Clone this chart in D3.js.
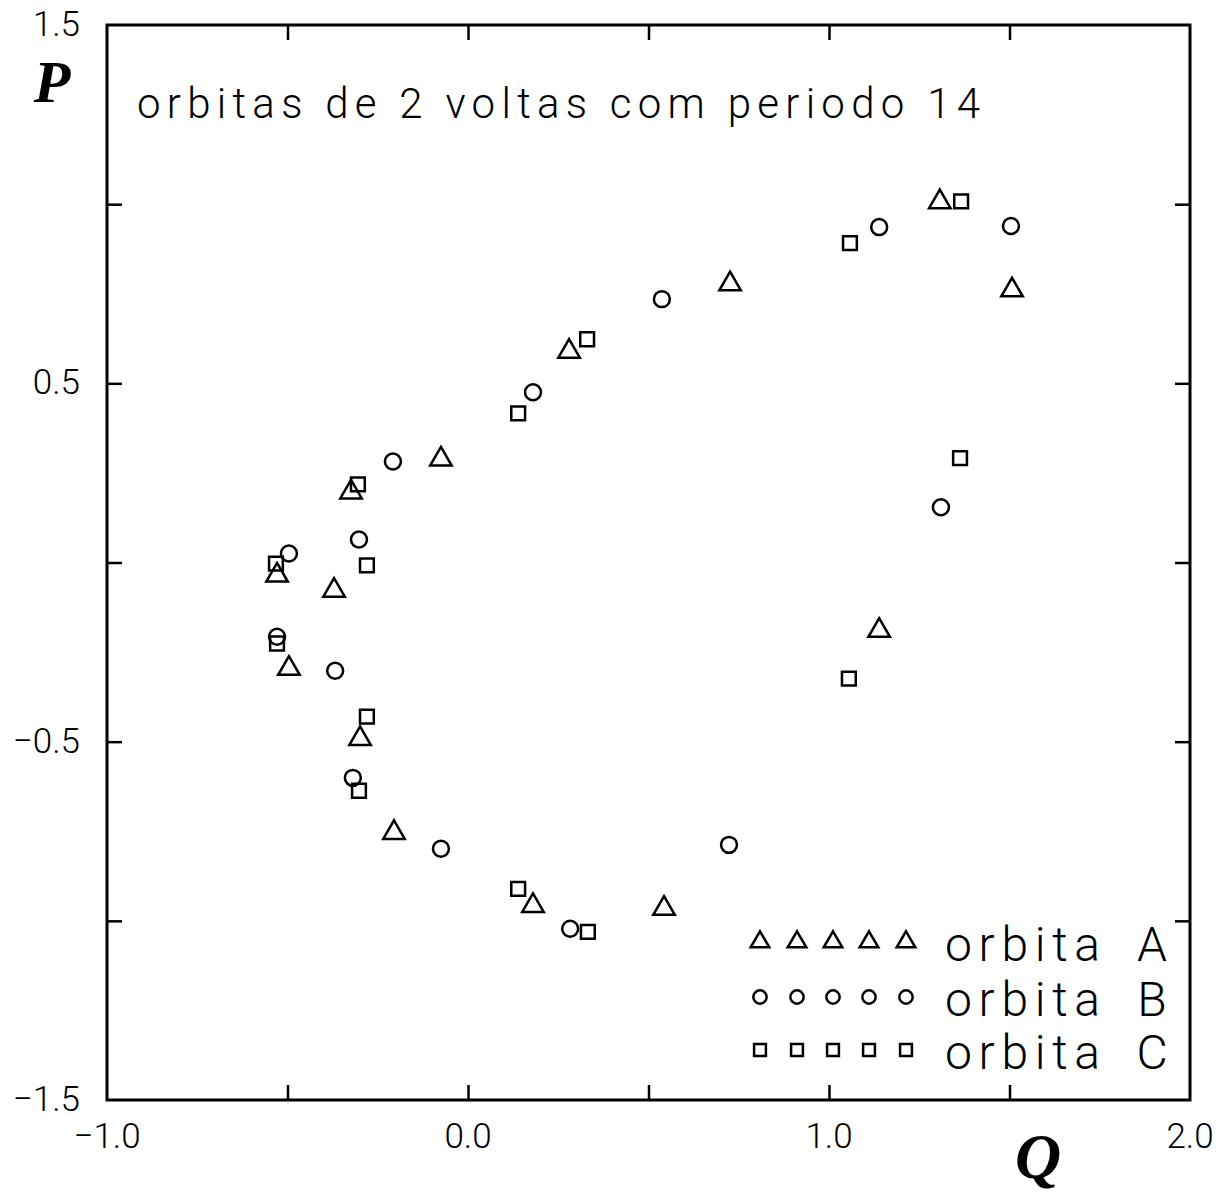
<!DOCTYPE html>
<html>
<head>
<meta charset="utf-8">
<script src="https://cdn.jsdelivr.net/npm/d3@7"></script>
<style>
  html, body { margin: 0; padding: 0; background: #fff; }
  svg { display: block; }
  .thin { font-family: "Roboto", "Liberation Sans", sans-serif; font-weight: 300; fill: #000; }
</style>
</head>
<body>
<svg id="chart" width="1225" height="1192"></svg>
<script>
// ---- data ----
const orbitA_Q = [1.307, 1.507, 0.726, 0.280, -0.075, -0.324, -0.529, -0.371, -0.496, -0.299, -0.205, 0.180, 0.543, 1.139];
const orbitA_P = [1.006, 0.760, 0.777, 0.589, 0.288, 0.196, -0.036, -0.078, -0.296, -0.492, -0.754, -0.958, -0.966, -0.190];

const orbitB_Q = [1.504, 1.139, 0.537, 0.180, -0.208, -0.302, -0.496, -0.529, -0.368, -0.319, -0.075, 0.283, 0.723, 1.310];
const orbitB_P = [0.939, 0.936, 0.735, 0.475, 0.282, 0.064, 0.025, -0.207, -0.302, -0.601, -0.799, -1.022, -0.788, 0.154];

const orbitC_Q = [1.366, 1.058, 0.330, 0.139, -0.305, -0.532, -0.280, -0.529, -0.280, -0.302, 0.139, 0.332, 1.055, 1.363];
const orbitC_P = [1.008, 0.891, 0.623, 0.416, 0.218, -0.003, -0.008, -0.226, -0.430, -0.637, -0.911, -1.031, -0.324, 0.291];

const seriesNames = ["orbita", "orbita", "orbita"];
const seriesLetters = ["A", "B", "C"];
const xTickLabels = [-1.0, 0.0, 1.0, 2.0];
const yTickLabels = [1.5, 0.5, -0.5, -1.5];
const minorTicks = [-1.0, -0.5, 0.0, 0.5, 1.0, 1.5];
const titleText = "orbitas de 2 voltas com periodo 14";

// ---- layout ----
const svg = d3.select("#chart");
const x = d3.scaleLinear().domain([-1, 2]).range([107, 1190]);
const y = d3.scaleLinear().domain([-1.5, 1.5]).range([1100, 25]);

const fmt = d => (d < 0 ? "\u2212" : "") + Math.abs(d).toFixed(1);

// frame
svg.append("rect")
  .attr("x", x(-1)).attr("y", y(1.5))
  .attr("width", x(2) - x(-1)).attr("height", y(-1.5) - y(1.5))
  .attr("fill", "none").attr("stroke", "#000").attr("stroke-width", 3);

// inward ticks on all four sides
const tickLen = 15;
function styleAxis(g) {
  g.select(".domain").remove();
  g.selectAll(".tick line").attr("stroke", "#000").attr("stroke-width", 2.5);
}
svg.append("g").attr("transform", `translate(0,${y(-1.5)})`)
  .call(d3.axisBottom(x).tickValues(minorTicks.filter(d => d > -1)).tickSize(-tickLen).tickFormat(""))
  .call(styleAxis);
svg.append("g").attr("transform", `translate(0,${y(1.5)})`)
  .call(d3.axisTop(x).tickValues(minorTicks.filter(d => d > -1)).tickSize(-tickLen).tickFormat(""))
  .call(styleAxis);
svg.append("g").attr("transform", `translate(${x(-1)},0)`)
  .call(d3.axisLeft(y).tickValues(minorTicks.filter(d => d > -1.5 && d < 1.5)).tickSize(-tickLen).tickFormat(""))
  .call(styleAxis);
svg.append("g").attr("transform", `translate(${x(2)},0)`)
  .call(d3.axisRight(y).tickValues(minorTicks.filter(d => d > -1.5 && d < 1.5)).tickSize(-tickLen).tickFormat(""))
  .call(styleAxis);

// tick labels
svg.append("g").selectAll("text").data(xTickLabels).join("text")
  .attr("class", "thin")
  .attr("x", d => x(d)).attr("y", 1148)
  .attr("text-anchor", "middle")
  .attr("font-size", 35)
  .text(fmt);
svg.append("g").selectAll("text").data(yTickLabels).join("text")
  .attr("class", "thin")
  .attr("x", 80).attr("y", d => y(d) + 11)
  .attr("text-anchor", "end")
  .attr("font-size", 35)
  .text(fmt);

// axis titles
svg.append("text")
  .attr("x", 52).attr("y", 102)
  .attr("text-anchor", "middle")
  .attr("font-family", "Liberation Serif, Times New Roman, serif")
  .attr("font-style", "italic").attr("font-weight", "bold")
  .attr("font-size", 60)
  .text("P");
svg.append("text")
  .attr("x", 1038).attr("y", 1178)
  .attr("text-anchor", "middle")
  .attr("font-family", "Liberation Serif, Times New Roman, serif")
  .attr("font-style", "italic").attr("font-weight", "bold")
  .attr("font-size", 64)
  .text("Q");

// title
svg.append("text")
  .attr("class", "thin")
  .attr("x", 137).attr("y", 118)
  .attr("font-size", 42)
  .attr("textLength", 843).attr("lengthAdjust", "spacing")
  .text(titleText);

// markers
const shapes = [d3.symbolTriangle, d3.symbolCircle, d3.symbolSquare];
const sizes = [200, 200, 190];
const legendSizes = [150, 140, 140];
const series = [
  orbitA_Q.map((q, i) => ({ q, p: orbitA_P[i] })),
  orbitB_Q.map((q, i) => ({ q, p: orbitB_P[i] })),
  orbitC_Q.map((q, i) => ({ q, p: orbitC_P[i] }))
];

series.forEach((pts, si) => {
  svg.append("g").selectAll("path").data(pts).join("path")
    .attr("d", d3.symbol().type(shapes[si]).size(sizes[si]))
    .attr("transform", d => `translate(${x(d.q)},${y(d.p)})`)
    .attr("fill", "none").attr("stroke", "#000").attr("stroke-width", 2.5);
});

// legend
const legendRowY = [942, 997, 1050];
const legendMarkerX = [760, 797, 833, 869, 906];
seriesLetters.forEach((letter, si) => {
  const g = svg.append("g");
  g.selectAll("path").data(legendMarkerX).join("path")
    .attr("d", d3.symbol().type(shapes[si]).size(legendSizes[si]))
    .attr("transform", mx => `translate(${mx},${legendRowY[si]})`)
    .attr("fill", "none").attr("stroke", "#000").attr("stroke-width", 2.5);
  g.append("text").attr("class", "thin")
    .attr("x", 945).attr("y", legendRowY[si] + 19)
    .attr("font-size", 48)
    .attr("textLength", 155).attr("lengthAdjust", "spacing")
    .text(seriesNames[si]);
  g.append("text").attr("class", "thin")
    .attr("x", 1152).attr("y", legendRowY[si] + 19)
    .attr("text-anchor", "middle")
    .attr("font-size", 48)
    .text(letter);
});
</script>
</body>
</html>
